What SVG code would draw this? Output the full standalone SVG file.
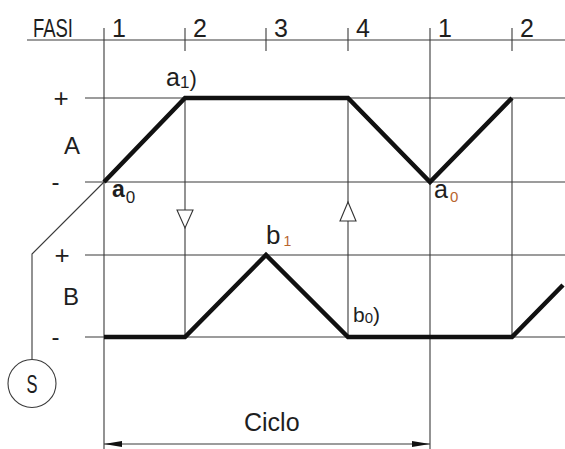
<svg xmlns="http://www.w3.org/2000/svg" width="565" height="449" viewBox="0 0 565 449">
<style>
.thin{stroke:#3a3a3a;stroke-width:1.1;fill:none}
.thick{stroke:#111;stroke-width:4.5;fill:none;stroke-linejoin:miter;stroke-linecap:butt}
.t{font-family:"Liberation Sans",Arial,sans-serif;fill:#1e1e1e}
.or{fill:#b8652e}
.tri{fill:#fff;stroke:#333;stroke-width:1.1}
</style>
<defs>
<marker id="ah" viewBox="0 0 18 6" refX="18" refY="3" markerWidth="18" markerHeight="6" markerUnits="userSpaceOnUse" orient="auto-start-reverse">
<path d="M0,0 L18,3 L0,6 Z" fill="#111"/>
</marker>
</defs>
<rect width="565" height="449" fill="#fff"/>
<g id="grid">
<line class="thin" x1="27" y1="40" x2="565" y2="40"/>
<line class="thin" x1="104" y1="28" x2="104" y2="449"/>
<line class="thin" x1="430" y1="28" x2="430" y2="449"/>
<line class="thin" x1="185" y1="28" x2="185" y2="51"/>
<line class="thin" x1="266" y1="28" x2="266" y2="51"/>
<line class="thin" x1="348" y1="28" x2="348" y2="51"/>
<line class="thin" x1="512" y1="28" x2="512" y2="51"/>
<line class="thin" x1="85" y1="98" x2="565" y2="98"/>
<line class="thin" x1="85" y1="182" x2="565" y2="182"/>
<line class="thin" x1="85" y1="255" x2="565" y2="255"/>
<line class="thin" x1="85" y1="337" x2="565" y2="337"/>
<line class="thin" x1="185" y1="98" x2="185" y2="337"/>
<line class="thin" x1="348" y1="98" x2="348" y2="337"/>
<line class="thin" x1="512" y1="98" x2="512" y2="337"/>
</g>
<g id="labels-axis">
<text class="t" x="33" y="37" font-size="25" textLength="40" lengthAdjust="spacingAndGlyphs">FASI</text>
<text class="t" x="112" y="37" font-size="25">1</text>
<text class="t" x="193" y="37" font-size="25">2</text>
<text class="t" x="274" y="37" font-size="25">3</text>
<text class="t" x="356" y="37" font-size="25">4</text>
<text class="t" x="438" y="37" font-size="25">1</text>
<text class="t" x="520" y="37" font-size="25">2</text>
<text class="t" x="61" y="107" font-size="26" text-anchor="middle">+</text>
<text class="t" x="64" y="154" font-size="24">A</text>
<text class="t" x="55.5" y="190" font-size="24" text-anchor="middle">-</text>
<text class="t" x="62" y="264" font-size="26" text-anchor="middle">+</text>
<text class="t" x="63" y="305" font-size="24">B</text>
<text class="t" x="55.5" y="345" font-size="24" text-anchor="middle">-</text>
</g>
<g id="connectors">
<polyline class="thick" points="104,182 185,98 348,98 430,182 512,98"/>
<polyline class="thick" points="104,337 185,337 266,255 348,337 512,337 563,285"/>
<polyline class="thin" points="104,182 32,254 32,359.5"/>
<polygon class="tri" points="177,210 193,210 185,228"/>
<polygon class="tri" points="340,221 356,221 348,202"/>
<line class="thin" x1="104" y1="444" x2="430" y2="444" marker-start="url(#ah)" marker-end="url(#ah)" stroke="#111"/>
</g>
<g id="label-a1">
<text class="t" x="166" y="86" font-size="25">a<tspan font-size="17" dy="2">1</tspan><tspan font-size="22" dy="-2">)</tspan></text>
</g>
<g id="label-a0-left">
<text class="t" x="112" y="197" font-size="23" font-weight="bold">a<tspan font-size="17" font-weight="normal" dx="1" dy="6">0</tspan></text>
</g>
<g id="label-a0-right">
<text class="t" x="434" y="198" font-size="25">a<tspan class="or" font-size="15" dx="2" dy="4">0</tspan></text>
</g>
<g id="label-b1">
<text class="t" x="266" y="244" font-size="26">b<tspan class="or" font-size="14" dx="3" dy="2">1</tspan></text>
</g>
<g id="label-b0">
<text class="t" x="353" y="322" font-size="21">b<tspan font-size="15" dy="1">0</tspan><tspan font-size="21" dy="-1">)</tspan></text>
</g>
<g id="node-S">
<circle cx="32" cy="383.5" r="24" fill="#fff" stroke="#3a3a3a" stroke-width="1.1"/>
<text class="t" x="32" y="393" font-size="25" text-anchor="middle" textLength="11" lengthAdjust="spacingAndGlyphs">S</text>
</g>
<g id="label-ciclo">
<text class="t" x="244" y="431" font-size="25">Ciclo</text>
</g>
</svg>
